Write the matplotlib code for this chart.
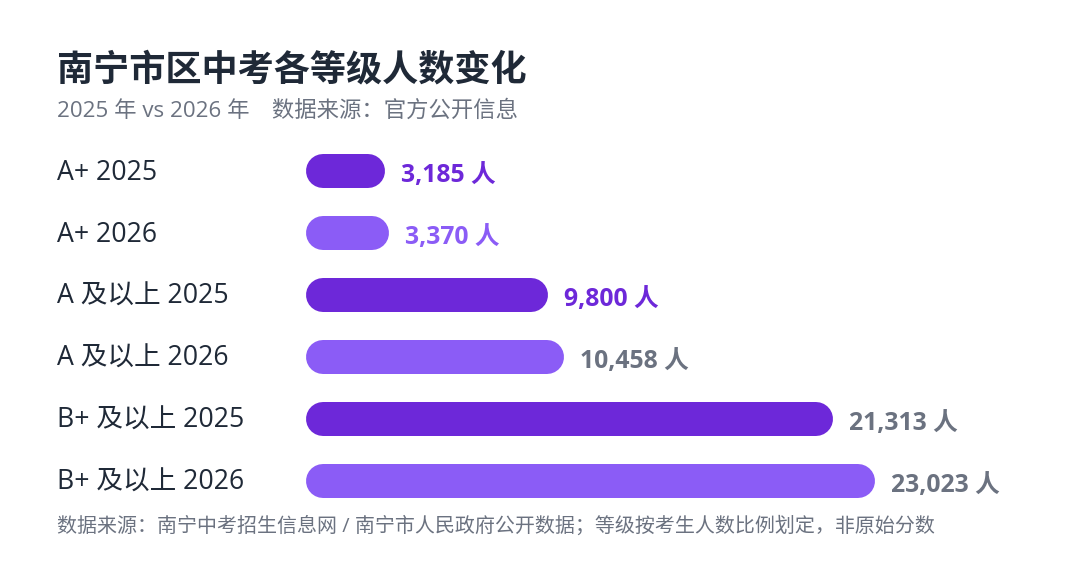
import matplotlib
matplotlib.use("Agg")
import matplotlib.pyplot as plt
import matplotlib.transforms as mtransforms

FAM = ['Open Sans', 'Noto Sans CJK SC', 'DejaVu Sans']
plt.rcParams['font.family'] = FAM

categories = ["A+ 2025", "A+ 2026", "A 及以上 2025", "A 及以上 2026", "B+ 及以上 2025", "B+ 及以上 2026"]
values = [3185, 3370, 9800, 10458, 21313, 23023]
years = [2025, 2026, 2025, 2026, 2025, 2026]
value_label_colors = ["#6D28D9", "#8B5CF6", "#6D28D9", "#6B7280", "#6B7280", "#6B7280"]

title = "南宁市区中考各等级人数变化"
subtitle = "2025 年 vs 2026 年　数据来源：官方公开信息"
footer = "数据来源：南宁中考招生信息网 / 南宁市人民政府公开数据；等级按考生人数比例划定，非原始分数"

bar_colors = {2025: "#6D28D9", 2026: "#8B5CF6"}

W, H = 1080, 562
fig = plt.figure(figsize=(W / 100, H / 100), dpi=100)
fig.patch.set_facecolor("white")

ax_left, ax_right = 306, 1040
ax_top, ax_bottom = 140, 512
ax = fig.add_axes([ax_left / W, 1 - ax_bottom / H, (ax_right - ax_left) / W, (ax_bottom - ax_top) / H])
xmax = (ax_right - ax_left) / ((875 - 306) / 23023)
ax.set_xlim(0, xmax)
ax.set_ylim(len(categories) - 0.5, -0.5)
ax.axis("off")

bar_h_px = 34
px_per_x = (ax_right - ax_left) / xmax
r_x = (bar_h_px / 2) / px_per_x
lw_pt = bar_h_px * 72 / 100

for i, (v, yr) in enumerate(zip(values, years)):
    ax.plot([r_x, v - r_x], [i, i], color=bar_colors[yr], linewidth=lw_pt,
            solid_capstyle="round", zorder=2)
    ax.annotate(f"{v:,} 人", xy=(v, i), xytext=(11.5, -3.2), textcoords="offset points",
                va="center", ha="left", fontsize=17.8, fontweight="bold",
                color=value_label_colors[i])

blend = mtransforms.blended_transform_factory(fig.transFigure, ax.transData)
label_off = mtransforms.ScaledTranslation(0, -1.5 / 100, fig.dpi_scale_trans)
for i, c in enumerate(categories):
    ax.text(57 / W, i, c, transform=blend + label_off, ha="left", va="center",
            fontsize=19.2, color="#1F2937")

fig.text(57 / W, 1 - 71.5 / H, title, ha="left", va="center", fontsize=26,
         fontweight="bold", color="#1F2937")
fig.text(57 / W, 1 - 111 / H, subtitle, ha="left", va="center", fontsize=16.1,
         color="#6B7280")
fig.text(57 / W, 1 - 526.5 / H, footer, ha="left", va="center", fontsize=14.4,
         color="#6B7280")

fig.savefig("out.png", dpi=100, facecolor="white")
